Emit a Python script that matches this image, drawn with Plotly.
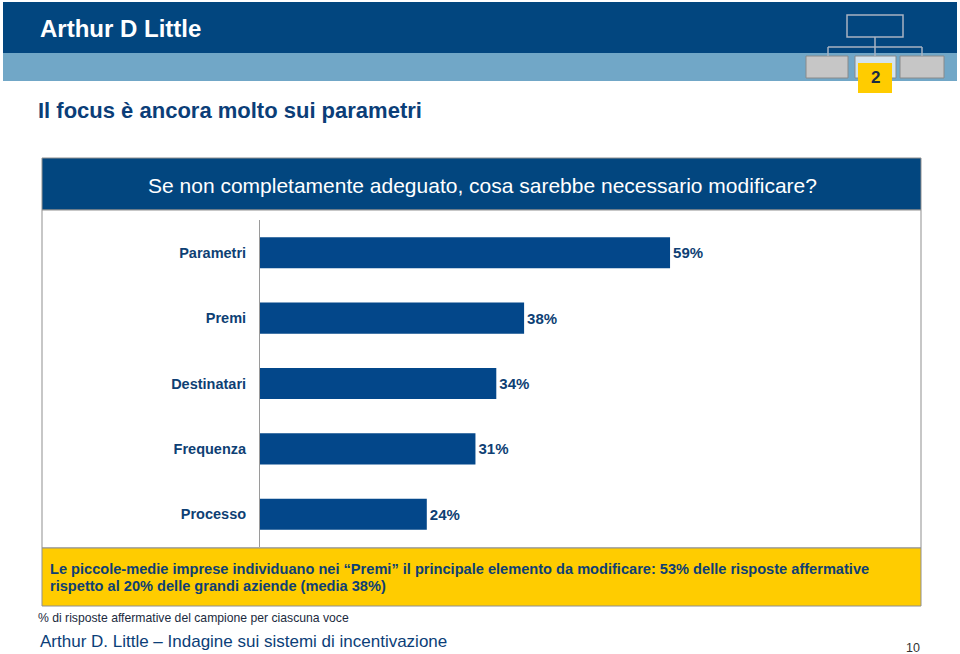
import plotly.graph_objects as go

categories = ["Parametri", "Premi", "Destinatari", "Frequenza", "Processo"]
values = [59, 38, 34, 31, 24]
value_labels = ["59%", "38%", "34%", "31%", "24%"]

W, H = 960, 654
DARK = "#02467F"
LIGHT = "#71A7C7"
BAR = "#03478A"
TXT = "#0E3F74"
YEL = "#FFCC00"
GRAY = "#8F8F8F"


def px(x):
    return x / W


def py(y):
    return 1 - y / H


fig = go.Figure()
fig.add_trace(go.Bar(
    y=categories, x=values, orientation="h",
    marker=dict(color=BAR, line=dict(width=0)),
    width=0.475,
    text=value_labels, textposition="outside", cliponaxis=False,
    textfont=dict(family="Liberation Sans, Arial", size=15, color=TXT),
    hoverinfo="skip",
))

shapes = []


def rect(x0, y0, x1, y1, fill, line=None, lw=1):
    shapes.append(dict(type="rect", xref="paper", yref="paper",
                       x0=px(x0), x1=px(x1), y0=py(y1), y1=py(y0),
                       fillcolor=fill, layer="below",
                       line=dict(color=line or fill, width=lw if line else 0)))


def seg(x0, y0, x1, y1, color, lw=1):
    shapes.append(dict(type="line", xref="paper", yref="paper",
                       x0=px(x0), x1=px(x1), y0=py(y0), y1=py(y1),
                       line=dict(color=color, width=lw)))


# header bands
rect(3, 2, 957, 53, DARK)
rect(3, 53, 957, 81, LIGHT)
# org chart icon
OC = "#A9B3C2"
rect(847, 15, 903, 37, "rgba(0,0,0,0)", OC, 1.5)
seg(875, 37, 875, 47, OC, 1.5)
seg(828, 47, 922, 47, OC, 1.5)
seg(828, 47, 828, 56, OC, 1.5)
seg(875, 47, 875, 56, OC, 1.5)
seg(922, 47, 922, 56, OC, 1.5)
rect(806, 56, 848, 78, "#C6C6C6", "#8A8A8A", 1)
rect(855, 56, 896, 78, "#D4E3EC", "#8A8A8A", 1)
rect(900, 56, 944, 78, "#C6C6C6", "#8A8A8A", 1)
rect(858, 63, 892, 93, YEL)
# panel
rect(42, 158, 921, 210, DARK, GRAY, 1)
rect(42, 210, 921, 548, "white", GRAY, 1)
rect(42, 548, 921, 606, YEL, GRAY, 1)

ann = []


def text(x, y, s, size, color, bold=False, xanchor="left", family="Liberation Sans, Arial"):
    ann.append(dict(xref="paper", yref="paper", x=px(x), y=py(y), text=("<b>%s</b>" % s) if bold else s,
                    showarrow=False, xanchor=xanchor, yanchor="middle",
                    font=dict(family=family, size=size, color=color), align="left"))


text(38, 29, "Arthur D Little", 24, "white", bold=True)
text(875, 78, "2", 17, "#1A2A44", bold=True, xanchor="center")
text(36, 111, "Il focus è ancora molto sui parametri", 22, "#0B3E78", bold=True)
text(482, 185, "Se non completamente adeguato, cosa sarebbe necessario modificare?", 21, "white", xanchor="center")
text(48, 569, "Le piccole-medie imprese individuano nei “Premi” il principale elemento da modificare: 53% delle risposte affermative", 14.6, TXT, bold=True)
text(48, 586, "rispetto al 20% delle grandi aziende (media 38%)", 14.6, TXT, bold=True)
text(36, 618, "% di risposte affermative del campione per ciascuna voce", 12.2, "#1B2A40")
text(38, 641, "Arthur D. Little – Indagine sui sistemi di incentivazione", 17, "#0B3E78")
text(922, 648, "10", 12.5, "#333333", xanchor="right")

fig.update_layout(
    width=W, height=H, margin=dict(l=0, r=0, t=0, b=0),
    paper_bgcolor="white", plot_bgcolor="rgba(0,0,0,0)",
    showlegend=False, shapes=shapes, annotations=ann,
    xaxis=dict(domain=[px(260), px(260 + 60 * 6.95)], range=[0, 60], visible=False, fixedrange=True),
    yaxis=dict(domain=[py(547), py(220)], categoryorder="array", categoryarray=categories,
               autorange="reversed", showline=True, linecolor="#9A9A9A", linewidth=1,
               ticks="", showgrid=False, zeroline=False, ticklabelstandoff=10,
               tickfont=dict(family="Liberation Sans, Arial", size=14.5, color=TXT)),
    font=dict(family="Liberation Sans, Arial"),
)
fig.update_traces(texttemplate="<b>%{text}</b>")
fig.update_yaxes(tickprefix="<b>", ticksuffix="</b>")

fig.write_html("out.html", config={"displayModeBar": False},
               post_script="document.body.style.margin='0';document.body.style.overflow='hidden';")
